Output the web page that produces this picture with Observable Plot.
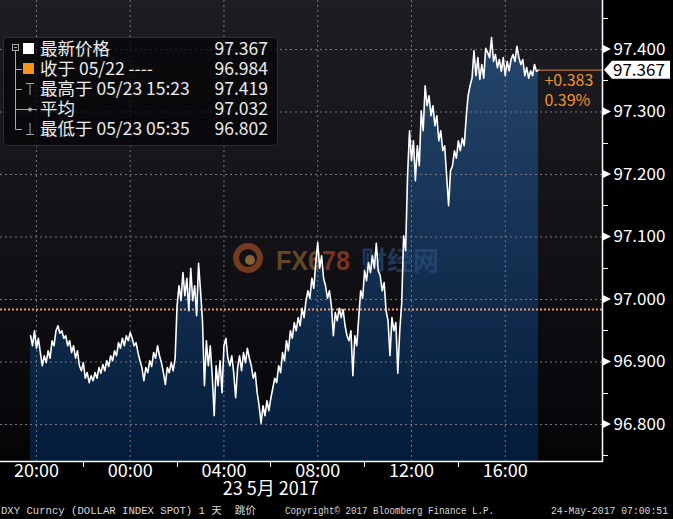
<!DOCTYPE html>
<html><head><meta charset="utf-8">
<script src="https://cdn.jsdelivr.net/npm/d3@7"></script>
<script src="https://cdn.jsdelivr.net/npm/@observablehq/plot@0.6"></script>
<style>
html,body{margin:0;padding:0;background:#000;}
#chart{width:673px;height:519px;overflow:hidden;}
svg{display:block}
</style></head><body><div id="chart"></div>
<script>
// ---------- data ----------
const startTime = Date.UTC(2017, 4, 22, 19, 45);   // first quote, 05/22 19:45
const stepMinutes = 5;
const prices = [
96.942,96.926,96.950,96.922,96.938,96.915,96.894,96.910,96.899,96.918,
96.906,96.934,96.926,96.950,96.958,96.946,96.950,96.938,96.942,96.926,
96.934,96.915,96.926,96.906,96.918,96.894,96.886,96.899,96.874,96.883,
96.867,96.878,96.870,96.883,96.874,96.891,96.882,96.896,96.886,96.902,
96.893,96.910,96.902,96.918,96.910,96.931,96.922,96.938,96.926,96.942,
96.934,96.947,96.938,96.926,96.931,96.915,96.902,96.891,96.870,96.891,
96.883,96.902,96.893,96.915,96.906,96.926,96.910,96.899,96.883,96.864,
96.891,96.883,96.899,96.886,96.906,96.990,97.022,96.998,97.043,97.006,
97.034,96.982,97.050,96.998,97.022,96.974,97.058,97.014,96.966,96.862,
96.934,96.894,96.926,96.878,96.814,96.894,96.862,96.902,96.851,96.926,
96.938,96.906,96.894,96.910,96.883,96.843,96.891,96.910,96.886,96.915,
96.899,96.922,96.906,96.894,96.874,96.883,96.851,96.830,96.802,96.830,
96.814,96.838,96.822,96.842,96.858,96.874,96.867,96.894,96.883,96.915,
96.902,96.934,96.918,96.950,96.938,96.963,96.950,96.971,96.958,96.986,
96.971,96.998,97.014,97.002,97.034,97.018,97.059,97.091,97.050,97.070,
97.034,97.022,97.002,97.014,96.990,96.942,96.979,96.966,96.986,96.971,
96.984,96.958,96.942,96.934,96.950,96.878,96.942,96.926,96.971,97.014,
97.002,97.046,97.030,97.059,97.043,97.070,97.050,97.090,97.046,97.038,
97.014,97.027,96.982,96.966,96.910,96.971,96.950,96.963,96.882,96.950,
96.994,97.102,97.078,97.198,97.270,97.222,97.254,97.190,97.246,97.214,
97.302,97.270,97.342,97.310,97.326,97.294,97.310,97.278,97.294,97.254,
97.270,97.238,97.246,97.198,97.150,97.206,97.214,97.238,97.226,97.254,
97.238,97.258,97.246,97.291,97.326,97.342,97.354,97.398,97.358,97.387,
97.352,97.376,97.354,97.402,97.395,97.387,97.419,97.381,97.392,97.371,
97.384,97.365,97.387,97.358,97.381,97.366,97.384,97.392,97.381,97.405,
97.387,97.376,97.384,97.358,97.371,97.354,97.366,97.358,97.376,97.365,
97.367
];
const prevClose = 96.984;
const lastPrice = 97.367;
const changeText = ["+0.383", "0.39%"];
const yTicks = [96.8, 96.9, 97.0, 97.1, 97.2, 97.3, 97.4];
const yMinorTicks = [96.75, 96.85, 96.95, 97.05, 97.15, 97.25, 97.35, 97.45];
const xTickTimes = [20, 24, 28, 32, 36, 40].map(h => new Date(Date.UTC(2017, 4, 22, h)));
const xMinorTimes = [22, 26, 30, 34, 38].map(h => new Date(Date.UTC(2017, 4, 22, h)));
const xDomain = [new Date(Date.UTC(2017, 4, 22, 18, 28)), new Date(Date.UTC(2017, 4, 23, 20, 9))];
const yDomain = [96.7408, 97.4784];
const dateLabel = [{t: new Date(Date.UTC(2017, 4, 23, 6, 0)), text: "23 5月 2017"}];
const legendLabels = ["最新价格", "收于 05/22 ----", "最高于 05/23 15:23", "平均", "最低于 05/23 05:35"];
const legendValues = ["97.367", "96.984", "97.419", "97.032", "96.802"];
const footerTexts = ["DXY Curncy (DOLLAR INDEX SPOT) 1 天  跳价", "Copyright© 2017 Bloomberg Finance L.P.", "24-May-2017 07:00:51"];
const watermark = ["FX6", "78", "财经网"];

// ---------- build ----------
const data = prices.map((v, i) => ({t: new Date(startTime + i * stepMinutes * 60000), v}));
const last = data[data.length - 1];
const fontMain = "'Noto Sans CJK SC', 'Noto Sans', sans-serif";

const background = (index, scales, values, d) => {
  const g = d3.create("svg:g");
  const defs = g.append("defs");
  const bg = defs.append("linearGradient").attr("id", "bgGrad").attr("x1", 0).attr("y1", 0).attr("x2", 0).attr("y2", 1);
  bg.append("stop").attr("offset", "0%").attr("stop-color", "#1d1d23");
  bg.append("stop").attr("offset", "55%").attr("stop-color", "#111116");
  bg.append("stop").attr("offset", "100%").attr("stop-color", "#050508");
  const ag = defs.append("linearGradient").attr("id", "areaGrad").attr("gradientUnits", "userSpaceOnUse")
    .attr("x1", 0).attr("y1", d.marginTop).attr("x2", 0).attr("y2", d.height - d.marginBottom);
  ag.append("stop").attr("offset", "0%").attr("stop-color", "#28496f");
  ag.append("stop").attr("offset", "100%").attr("stop-color", "#041c3a");
  g.append("rect").attr("x", d.marginLeft).attr("y", d.marginTop)
    .attr("width", d.width - d.marginLeft - d.marginRight)
    .attr("height", d.height - d.marginTop - d.marginBottom)
    .attr("fill", "url(#bgGrad)");
  return g.node();
};

const watermarkMark = (index, scales, values, d) => {
  const g = d3.create("svg:g").attr("opacity", 0.6).attr("text-anchor", "start");
  g.append("circle").attr("cx", 248).attr("cy", 258).attr("r", 12).attr("fill", "none")
    .attr("stroke", "#b8582a").attr("stroke-width", 6);
  g.append("circle").attr("cx", 250).attr("cy", 260).attr("r", 5).attr("fill", "#d89a50");
  const t = g.append("text").attr("x", 276).attr("y", 270).attr("font-family", "'Liberation Sans', Arial, sans-serif")
    .attr("font-weight", "bold").attr("font-size", 27).attr("textLength", 74).attr("lengthAdjust", "spacingAndGlyphs");
  t.append("tspan").attr("fill", "#9a6c30").text(watermark[0]);
  t.append("tspan").attr("fill", "#c0482a").text(watermark[1]);
  g.append("text").attr("x", 361).attr("y", 270).attr("font-family", fontMain).attr("font-weight", "bold")
    .attr("font-size", 26).attr("fill", "#2c5282").attr("textLength", 78).attr("lengthAdjust", "spacingAndGlyphs").text(watermark[2]);
  return g.node();
};

const overlay = (index, scales, values, d) => {
  const g = d3.create("svg:g").attr("text-anchor", "start");
  const x0 = d.width - d.marginRight;
  const yb = d.height - d.marginBottom;
  // axis lines
  g.append("line").attr("x1", x0 + 0.5).attr("x2", x0 + 0.5).attr("y1", 0).attr("y2", yb + 1).attr("stroke", "#fff").attr("stroke-width", 1.5);
  g.append("line").attr("x1", 0).attr("x2", x0 + 1).attr("y1", yb + 0.5).attr("y2", yb + 0.5).attr("stroke", "#fff").attr("stroke-width", 1.5);
  // major tick arrows
  for (const v of yTicks) {
    const y = scales.y(v);
    g.append("path").attr("d", `M${x0 + 1},${y - 4}L${x0 + 9},${y}L${x0 + 1},${y + 4}Z`).attr("fill", "#fff");
  }
  // minor ticks
  for (const v of yMinorTicks) {
    const y = Math.round(scales.y(v)) + 0.5;
    g.append("line").attr("x1", x0).attr("x2", x0 + 6).attr("y1", y).attr("y2", y).attr("stroke", "#fff");
  }
  for (const t of xMinorTimes) {
    const x = Math.round(scales.x(t)) + 0.5;
    g.append("line").attr("x1", x).attr("x2", x).attr("y1", yb).attr("y2", yb + 6).attr("stroke", "#fff");
  }
  // last price tag
  const yl = scales.y(lastPrice);
  g.append("path").attr("d", `M${x0 + 2},${yl}L${x0 + 10},${yl - 9}L${d.width - 3},${yl - 9}L${d.width - 3},${yl + 9}L${x0 + 10},${yl + 9}Z`).attr("fill", "#fff");
  g.append("text").attr("x", x0 + 11).attr("y", yl).attr("dy", "0.36em").attr("font-family", fontMain)
    .attr("font-size", 17).attr("fill", "#000").text(d3.format(".3f")(lastPrice));
  // legend
  const lg = g.append("g");
  lg.append("rect").attr("x", 3.5).attr("y", 37.5).attr("width", 274).attr("height", 108).attr("rx", 4)
    .attr("fill", "#050508").attr("fill-opacity", 0.75).attr("stroke", "#2c2c34");
  const rowY = [49, 69, 89, 109, 129];
  const gray = "#a8a8a8";
  lg.append("rect").attr("x", 12.5).attr("y", 44.5).attr("width", 6).attr("height", 6).attr("fill", "none").attr("stroke", gray);
  lg.append("line").attr("x1", 14).attr("x2", 17).attr("y1", 47.5).attr("y2", 47.5).attr("stroke", gray);
  lg.append("line").attr("x1", 15.5).attr("x2", 15.5).attr("y1", 51).attr("y2", 129.5).attr("stroke", gray);
  for (const y of rowY.slice(1)) {
    lg.append("line").attr("x1", 15.5).attr("x2", 22).attr("y1", y + 0.5).attr("y2", y + 0.5).attr("stroke", gray);
  }
  lg.append("rect").attr("x", 23).attr("y", 43).attr("width", 11).attr("height", 11).attr("fill", "#fff");
  lg.append("rect").attr("x", 23).attr("y", 63).attr("width", 11).attr("height", 11).attr("fill", "#f7941d");
  lg.append("path").attr("d", "M26,83.5H34M30,83.5V95").attr("stroke", gray).attr("fill", "none");
  lg.append("line").attr("x1", 22).attr("x2", 37).attr("y1", 109.5).attr("y2", 109.5).attr("stroke", gray);
  lg.append("circle").attr("cx", 30).attr("cy", 109.5).attr("r", 2).attr("fill", gray);
  lg.append("path").attr("d", "M30,123V134.5M26,134.5H34").attr("stroke", gray).attr("fill", "none");
  legendLabels.forEach((s, i) => {
    lg.append("text").attr("x", 40).attr("y", rowY[i]).attr("dy", "0.36em").attr("text-anchor", "start")
      .attr("font-family", fontMain).attr("font-size", 17.5).attr("fill", "#ececec").text(s);
    lg.append("text").attr("x", 268).attr("y", rowY[i]).attr("dy", "0.36em").attr("text-anchor", "end")
      .attr("font-family", fontMain).attr("font-size", 17.5).attr("fill", "#ececec").text(legendValues[i]);
  });
  // footer
  const fy = 514;
  const ff = "'Liberation Mono', 'Noto Sans CJK SC', monospace";
  const fx = [[1, 255], [285, 209], [551, 117]];
  footerTexts.forEach((s, i) => {
    g.append("text").attr("x", fx[i][0]).attr("y", fy).attr("text-anchor", "start").attr("font-family", ff)
      .attr("font-size", 10.5).attr("fill", "#d8d8d8")
      .attr("textLength", fx[i][1]).attr("lengthAdjust", "spacingAndGlyphs").text(s);
  });
  return g.node();
};

const plot = Plot.plot({
  width: 673,
  height: 519,
  marginLeft: 0,
  marginTop: 0,
  marginRight: 71,
  marginBottom: 58,
  style: {background: "#000", color: "#fff", fontFamily: fontMain, overflow: "visible"},
  x: {type: "utc", domain: xDomain},
  y: {type: "linear", domain: yDomain},
  marks: [
    background,
    Plot.areaY(data, {x: "t", y1: () => yDomain[0], y2: "v", fill: "url(#areaGrad)", curve: "linear"}),
    Plot.ruleX(xTickTimes, {stroke: "#77777f", strokeWidth: 1, strokeDasharray: "2,3"}),
    Plot.ruleY(yTicks, {stroke: "#77777f", strokeWidth: 1, strokeDasharray: "2,3"}),
    watermarkMark,
    Plot.ruleY([prevClose], {stroke: "#f09a60", strokeWidth: 2, strokeDasharray: "2,2"}),
    Plot.lineY(data, {x: "t", y: "v", stroke: "#fff", strokeWidth: 1.6}),
    Plot.ruleY([lastPrice], {x1: last.t, x2: xDomain[1], stroke: "#e08a3c", strokeWidth: 1}),
    Plot.text([changeText[0]], {x: last.t, y: lastPrice, text: d => d, dx: 6, dy: 11, textAnchor: "start", fill: "#f0922c", fontSize: 16}),
    Plot.text([changeText[1]], {x: last.t, y: lastPrice, text: d => d, dx: 6, dy: 31, textAnchor: "start", fill: "#f0922c", fontSize: 16}),
    Plot.axisX(xTickTimes, {anchor: "bottom", tickSize: 0, tickPadding: 3, tickFormat: d3.utcFormat("%H:%M"), fontSize: 18, fill: "#fff", label: null}),
    Plot.text(dateLabel, {x: "t", text: "text", frameAnchor: "bottom", dy: 33, fontSize: 18, fill: "#fff"}),
    Plot.axisY(yTicks, {anchor: "right", tickSize: 0, tickPadding: 11, tickFormat: d3.format(".3f"), fontSize: 17, fill: "#fff", label: null}),
    overlay
  ]
});
document.getElementById("chart").appendChild(plot);
</script></body></html>
